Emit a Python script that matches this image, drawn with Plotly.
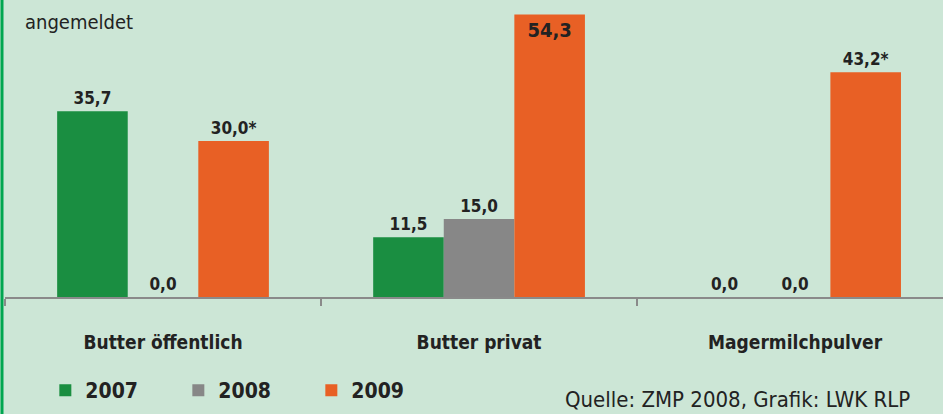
import plotly.graph_objects as go

categories = ["Butter öffentlich", "Butter privat", "Magermilchpulver"]
years = ["2007", "2008", "2009"]
values_2007 = [35.7, 11.5, 0.0]
values_2008 = [0.0, 15.0, 0.0]
values_2009 = [30.0, 54.3, 43.2]
notes_2009 = ["*", "", "*"]
colors = ["#1a8e41", "#878787", "#e86025"]

W, H = 943, 414
L, R, T, B = 5, 0, 0, 117
PW, PH = W - L - R, H - T - B

FONT = "DejaVu Sans Condensed, Liberation Sans Narrow, Arial Narrow, sans-serif"
TXT = "#222222"


def fmt(v, note=""):
    return f"{v:.1f}".replace(".", ",") + note


fig = go.Figure()
series = [values_2007, values_2008, values_2009]
maxv = max(max(s) for s in series)
for yr, vals, col in zip(years, series, colors):
    notes = notes_2009 if yr == "2009" else [""] * len(vals)
    texts = [fmt(v, n) for v, n in zip(vals, notes)]
    positions = ["inside" if v == maxv else "outside" for v in vals]
    fig.add_trace(go.Bar(
        name=yr, x=categories, y=vals, marker=dict(color=col, line=dict(width=0)),
        text=texts, textposition=positions, insidetextanchor="end",
        outsidetextfont=dict(family=FONT, size=17, color=TXT, weight="bold"),
        insidetextfont=dict(family=FONT, size=20, color=TXT, weight="bold"),
        cliponaxis=False, textangle=0, hoverinfo="skip",
    ))

fig.update_layout(
    width=W, height=H, margin=dict(l=L, r=R, t=T, b=B),
    paper_bgcolor="#cce6d6", plot_bgcolor="#cce6d6",
    barmode="group", bargap=0.33, bargroupgap=0,
    showlegend=True,
    legend=dict(orientation="h", x=0.043, y=-0.315, xanchor="left", yanchor="middle",
                font=dict(family=FONT, size=21, color=TXT, weight="bold"),
                entrywidth=88, entrywidthmode="pixels", bgcolor="rgba(0,0,0,0)",
                itemclick=False),
    xaxis=dict(range=[-0.5, 2.468], showline=True, linecolor="#8a8a8a", linewidth=2,
               ticks="outside", tickson="boundaries", ticklen=7, tickwidth=2, tickcolor="#8a8a8a",
               tickfont=dict(family=FONT, size=19, color=TXT, weight="bold"),
               ticklabelstandoff=27, showgrid=False, zeroline=False),
    yaxis=dict(range=[0, 57.1], visible=False, showgrid=False, zeroline=False),
)

fig.add_shape(type="line", xref="paper", yref="paper", x0=-3 / PW, x1=-3 / PW, y0=-B / PH, y1=1,
              line=dict(color="#00a650", width=3))

fig.add_annotation(text="angemeldet", xref="paper", yref="paper", x=18 / PW, y=(PH - 22) / PH,
                   xanchor="left", yanchor="middle", showarrow=False,
                   font=dict(family=FONT, size=20, color=TXT))
fig.add_annotation(text="Quelle: ZMP 2008, Grafik: LWK RLP", xref="paper", yref="paper",
                   x=(563 - L) / PW, y=(PH - 414) / PH, xanchor="left", yanchor="bottom",
                   showarrow=False, font=dict(family=FONT, size=22, color=TXT))

fig.write_html("out.html", config={"displayModeBar": False},
               post_script="document.body.style.margin='0';document.body.style.padding='0';")
